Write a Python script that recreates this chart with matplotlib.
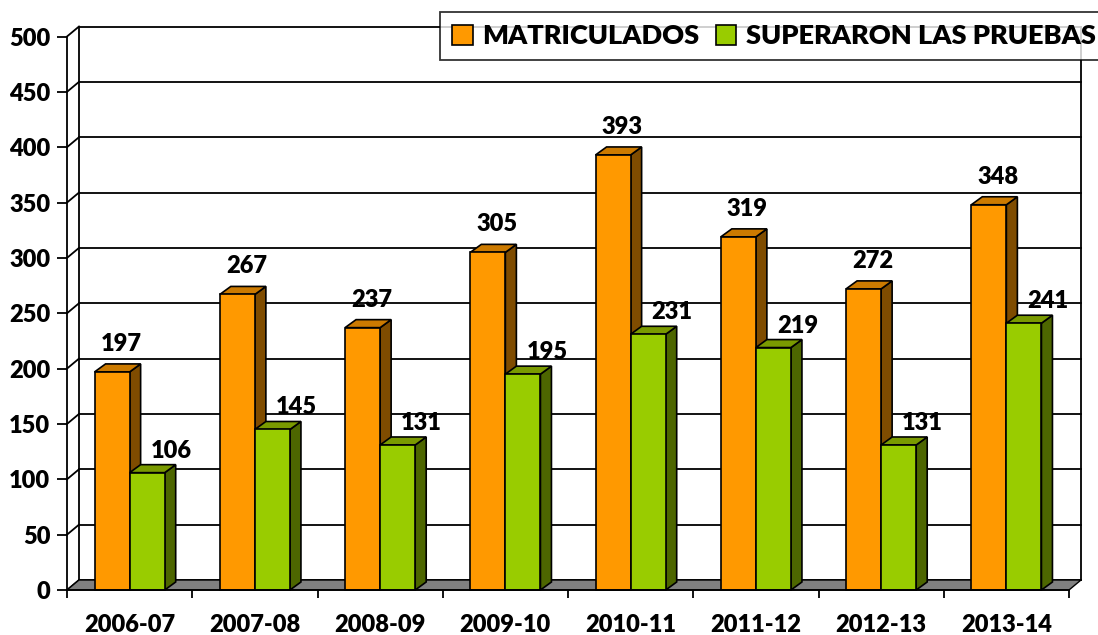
import matplotlib
matplotlib.use('Agg')
import matplotlib.pyplot as plt
from matplotlib.patches import Polygon, Rectangle

# Data #
categories = ['2006-07', '2007-08', '2008-09', '2009-10',
              '2010-11', '2011-12', '2012-13', '2013-14']
matriculados = [197, 267, 237, 305, 393, 319, 272, 348]
superaron = [106, 145, 131, 195, 231, 219, 131, 241]
series_names = ['MATRICULADOS', 'SUPERARON LAS PRUEBAS']
yticks = list(range(0, 501, 50))

# Colours: front, top, side #
orange = ('#FF9900', '#CC7A00', '#7F4C00')
green = ('#99CC00', '#7A9A00', '#4D6600')

plt.rcParams['font.family'] = ['Lato', 'DejaVu Sans']
WEIGHT = 800

W, H = 1098, 635
fig = plt.figure(figsize=(W / 100, H / 100), dpi=100)
ax = fig.add_axes([67 / W, 45 / H, 1002 / W, 553.5 / H])
n = len(categories)
ax.set_xlim(0, n)
ax.set_ylim(0, 500)

# pixel -> data units, for the fake 3D depth
px_x = n / 1002
px_y = 500 / 553.5
wall_dx, wall_dy = 12 * px_x, 10 * px_y
bar_dx, bar_dy = 11 * px_x, 8 * px_y

# Back wall, side wall and floor #
for v in yticks:
    ax.plot([wall_dx, n + wall_dx], [v + wall_dy, v + wall_dy], color='black', lw=1.3, zorder=1, clip_on=False)
    ax.plot([0, wall_dx], [v, v + wall_dy], color='black', lw=1.3, zorder=1, clip_on=False)
ax.plot([wall_dx, wall_dx], [wall_dy, 500 + wall_dy], color='black', lw=1.3, zorder=1, clip_on=False)
ax.plot([n + wall_dx, n + wall_dx], [wall_dy, 500 + wall_dy], color='black', lw=1.3, zorder=1, clip_on=False)
ax.add_patch(Polygon([(0, 0), (n, 0), (n + wall_dx, wall_dy), (wall_dx, wall_dy)],
                     closed=True, fc='#808080', ec='black', lw=1.0, zorder=2, clip_on=False))

def bar3d(x0, w, h, colors, z):
    front, top, side = colors
    kw = dict(ec='black', lw=1.2, zorder=z, clip_on=False, joinstyle='miter')
    ax.add_patch(Polygon([(x0 + w, 0), (x0 + w + bar_dx, bar_dy), (x0 + w + bar_dx, h + bar_dy), (x0 + w, h)],
                         closed=True, fc=side, **kw))
    ax.add_patch(Polygon([(x0, h), (x0 + bar_dx, h + bar_dy), (x0 + w + bar_dx, h + bar_dy), (x0 + w, h)],
                         closed=True, fc=top, **kw))
    ax.add_patch(Rectangle((x0, 0), w, h, fc=front, **kw))

bw = 0.28
for i in range(n):
    c = i + 0.5
    bar3d(c - bw, bw, matriculados[i], orange, 3)
    bar3d(c, bw, superaron[i], green, 4)
    ax.text(c - bw / 2 + 9 * px_x, matriculados[i] + 28 * px_y, str(matriculados[i]),
            ha='center', va='center', fontsize=17, fontweight=WEIGHT, zorder=6)
    ax.text(c + bw / 2 + 24 * px_x, superaron[i] + 22 * px_y, str(superaron[i]),
            ha='center', va='center', fontsize=17, fontweight=WEIGHT, zorder=6)

# Axes #
for s in ['top', 'right']:
    ax.spines[s].set_visible(False)
for s in ['left', 'bottom']:
    ax.spines[s].set_linewidth(1.3)
    ax.spines[s].set_zorder(7)
ax.set_yticks(yticks)
ax.set_yticklabels([str(v) for v in yticks], fontsize=17, fontweight=WEIGHT)
ax.tick_params(axis='y', direction='out', length=7, width=1.3, pad=5)
ax.set_xticks(range(n + 1))
ax.set_xticklabels([])
ax.set_xticks([i + 0.5 for i in range(n)], minor=True)
ax.set_xticklabels(categories, minor=True, fontsize=17, fontweight=WEIGHT)
ax.tick_params(axis='x', which='major', direction='out', length=6, width=1.3)
ax.tick_params(axis='x', which='minor', length=0, pad=17)
ax.set_facecolor('none')

# Legend #
handles = [Rectangle((0, 0), 1, 1, fc=orange[0], ec='black', lw=1.2),
           Rectangle((0, 0), 1, 1, fc=green[0], ec='black', lw=1.2)]
leg = fig.legend(handles, series_names, loc='upper left', bbox_to_anchor=(440 / W, 1 - 12 / H),
                 ncol=2, frameon=True, fancybox=False,
                 prop={'weight': WEIGHT, 'size': 19.5}, handlelength=0.75, handleheight=0.75,
                 handletextpad=0.37, columnspacing=0.6, borderpad=0.45, borderaxespad=0)
leg.get_frame().set_edgecolor('black')
leg.get_frame().set_linewidth(1.3)
leg.set_zorder(10)

fig.savefig('out.png', dpi=100)
